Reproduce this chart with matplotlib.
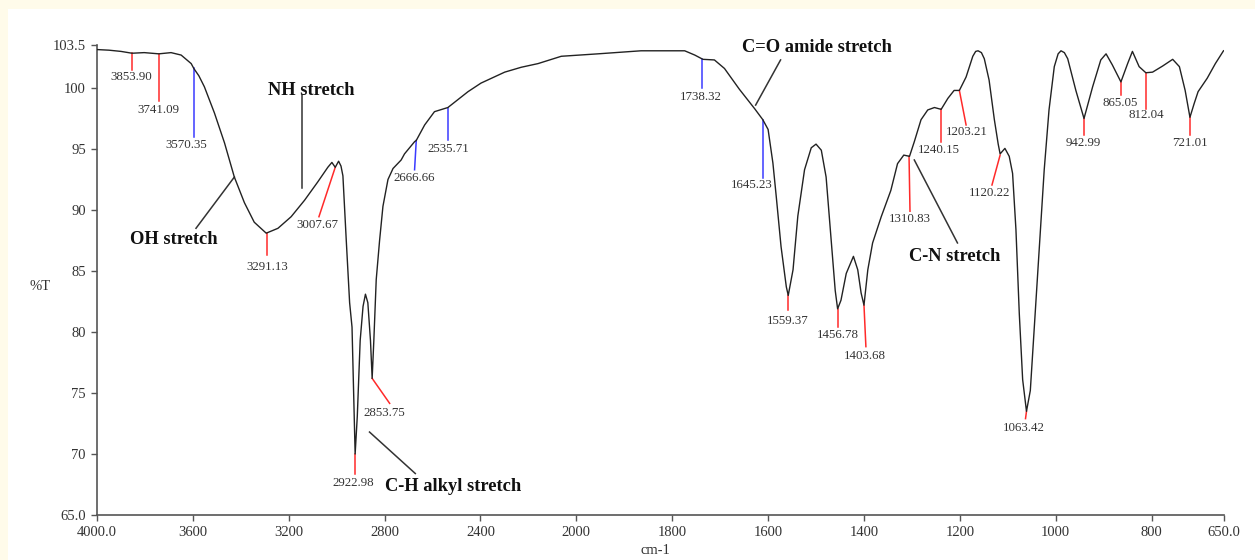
import numpy as np
import matplotlib.pyplot as plt
from matplotlib.patches import Rectangle

# FTIR spectrum (wavenumber cm-1, %T)
wn = [4000, 3950, 3900, 3853.9, 3803, 3742, 3691, 3649, 3607, 3596, 3575, 3552,
      3510, 3468, 3427, 3385, 3344, 3294, 3245, 3190, 3134, 3079, 3037, 3020,
      3006, 2992, 2982, 2974, 2960, 2946, 2936, 2928, 2923, 2914, 2902, 2890,
      2880, 2870, 2859, 2852, 2845, 2835, 2821, 2807, 2786, 2765, 2731, 2717,
      2675, 2668, 2633, 2592, 2536, 2452, 2398, 2299, 2230, 2160, 2063, 1955, 1865, 1774,
      1753, 1736, 1712, 1691, 1660, 1628, 1611, 1600, 1590, 1583, 1573, 1562,
      1558, 1548, 1538, 1524, 1510, 1500, 1489, 1479, 1469, 1460, 1455, 1448,
      1437, 1422, 1413, 1406, 1400, 1392, 1382, 1364, 1344, 1330, 1317, 1305,
      1295, 1281, 1267, 1253, 1239, 1225, 1212, 1201, 1187, 1173, 1167, 1162,
      1155, 1149, 1139, 1128, 1120, 1116, 1106, 1097, 1090, 1083, 1076, 1069,
      1061, 1053, 1045, 1034, 1024, 1014, 1003, 995, 989, 982, 975, 958, 941,
      923, 906, 895, 882, 864, 850, 840, 826, 812, 798, 777, 756, 742, 730,
      720, 711, 703, 684, 667, 650]
trans = [103.15, 103.1, 103.0, 102.85, 102.9, 102.8, 102.9, 102.7, 102.0, 101.6, 101.0, 100.1,
         97.95, 95.5, 92.7, 90.6, 89.0, 88.1, 88.5, 89.45, 90.8, 92.3, 93.5, 93.9,
         93.5, 94.0, 93.6, 92.8, 87.5, 82.4, 80.4, 73.9, 70.0, 73.1, 79.3, 82.1,
         83.1, 82.4, 79.3, 76.2, 79.3, 84.3, 87.5, 90.3, 92.5, 93.4, 94.1, 94.6,
         95.6, 95.7, 96.97, 98.06, 98.4, 99.7, 100.4, 101.3, 101.7, 102.0, 102.6, 102.8, 103.05, 103.05,
         102.7, 102.35, 102.3, 101.6, 99.9, 98.3, 97.4, 96.6, 93.85, 91.1, 87.0, 83.7,
         83.0, 85.1, 89.5, 93.3, 95.1, 95.4, 94.9, 92.7, 87.8, 83.4, 81.9, 82.6,
         84.8, 86.2, 85.1, 83.2, 82.2, 85.1, 87.3, 89.45, 91.6, 93.8, 94.5, 94.4,
         95.6, 97.4, 98.2, 98.4, 98.25, 99.15, 99.8, 99.8, 100.9, 102.6, 103.0, 103.05,
         102.9, 102.4, 100.65, 97.4, 95.4, 94.6, 95.05, 94.4, 93.0, 88.4, 81.5, 76.1,
         73.5, 75.2, 80.2, 87.0, 93.3, 98.2, 101.75, 102.8, 103.05, 102.9, 102.4, 99.8, 97.5,
         100.1, 102.3, 102.8, 101.9, 100.5, 102.0, 103.0, 101.75, 101.25, 101.3, 101.8, 102.35, 101.75, 99.8,
         97.6, 98.75, 99.7, 100.8, 102.0, 103.05]

# peak markers: label, line start (wn, %T), line end (wn, %T), colour, label position
peak_labels = ['3853.90', '3741.09', '3570.35', '3291.13', '3007.67', '2922.98',
               '2853.75', '2666.66', '2535.71', '1738.32', '1645.23', '1559.37',
               '1456.78', '1403.68', '1310.83', '1240.15', '1203.21', '1120.22',
               '1063.42', '942.99', '865.05', '812.04', '721.01']
mark_x0 = [3854, 3742, 3596, 3291, 3006, 2923, 2852, 2668, 2536, 1737, 1611, 1558,
           1455, 1400, 1306, 1240, 1201, 1116, 1061, 941, 864, 812, 720]
mark_y0 = [102.85, 102.8, 101.6, 88.1, 93.5, 70.0, 76.2, 95.7, 98.4, 102.35, 97.4, 83.0,
           81.9, 82.2, 94.4, 98.25, 99.8, 94.5, 73.5, 97.5, 100.5, 101.25, 97.6]
mark_x1 = [3854, 3742, 3596, 3291, 3074, 2923, 2779, 2675, 2536, 1737, 1611, 1558,
           1455, 1396, 1304, 1240, 1187, 1133, 1063, 941, 864, 812, 720]
mark_y1 = [101.5, 98.9, 96.0, 86.3, 89.45, 68.4, 74.15, 93.3, 95.7, 100.0, 92.6, 81.8,
           80.4, 78.8, 89.9, 95.6, 96.97, 92.05, 72.9, 96.15, 99.4, 98.3, 96.15]
mark_col = ['r', 'r', 'b', 'r', 'r', 'r', 'r', 'b', 'b', 'b', 'b', 'r',
            'r', 'r', 'r', 'r', 'r', 'r', 'r', 'r', 'r', 'r', 'r']
label_x = [3858, 3746, 3628, 3290, 3081, 2932, 2800, 2676, 2536, 1740, 1634, 1559,
           1455, 1399, 1305, 1243, 1185, 1139, 1066, 942, 866, 812, 720]
label_y = [100.9, 98.2, 95.3, 85.3, 88.8, 67.6, 73.4, 92.6, 95.0, 99.3, 92.05, 80.9,
           79.75, 78.0, 89.3, 94.9, 96.4, 91.4, 72.1, 95.5, 98.8, 97.8, 95.5]

# group annotations
groups = ['NH stretch', 'OH stretch', 'C-H alkyl stretch', 'C=O amide stretch', 'C-N stretch']
group_x = [3108, 3681, 2513, 1498, 1211]
group_y = [99.8, 87.6, 67.3, 103.3, 86.15]
ptr_x0 = [3144, 3587, 2863, 1574, 1295]
ptr_y0 = [99.4, 88.5, 71.8, 102.3, 94.1]
ptr_x1 = [3144, 3427, 2672, 1626, 1205]
ptr_y1 = [91.8, 92.7, 68.4, 98.6, 87.3]

xticks = [4000, 3600, 3200, 2800, 2400, 2000, 1800, 1600, 1400, 1200, 1000, 800, 650]
xtick_labels = ['4000.0', '3600', '3200', '2800', '2400', '2000', '1800', '1600',
                '1400', '1200', '1000', '800', '650.0']
yticks = [65, 70, 75, 80, 85, 90, 95, 100, 103.5]
ytick_labels = ['65.0', '70', '75', '80', '85', '90', '95', '100', '103.5']


# the instrument halves the scale above 2000 cm-1
def fwd(x):
    x = np.asarray(x, dtype=float)
    return np.where(x <= 2000, x - 2000, (x - 2000) / 2)


def inv(t):
    t = np.asarray(t, dtype=float)
    return np.where(t <= 0, t + 2000, t * 2 + 2000)


plt.rcParams['font.family'] = ['Liberation Serif', 'DejaVu Serif']

fig = plt.figure(figsize=(12.55, 5.6), dpi=100)
fig.patch.set_facecolor('white')
fig.patches.append(Rectangle((0, 1 - 9 / 560), 1, 9 / 560, transform=fig.transFigure,
                             facecolor='#fffbea', edgecolor='none', zorder=0))
fig.patches.append(Rectangle((0, 0), 8 / 1255, 1, transform=fig.transFigure,
                             facecolor='#fffbea', edgecolor='none', zorder=0))

ax = fig.add_axes([97 / 1255, 1 - 515 / 560, (1223.5 - 97) / 1255, (515 - 45.3) / 560])
ax.set_xscale('function', functions=(fwd, inv))
ax.plot(wn, trans, color='#222222', lw=1.0, zorder=3)
ax.set_xlim(4000, 650)
ax.set_ylim(65, 103.5)

colors = {'r': '#ff2a2a', 'b': '#3a3aff'}
for i in range(len(peak_labels)):
    ax.plot([mark_x0[i], mark_x1[i]], [mark_y0[i], mark_y1[i]],
            color=colors[mark_col[i]], lw=1.1, zorder=2)
    ax.text(label_x[i], label_y[i], peak_labels[i], ha='center', va='center',
            fontsize=9.3, color='#333333')

for i in range(len(groups)):
    ax.plot([ptr_x0[i], ptr_x1[i]], [ptr_y0[i], ptr_y1[i]], color='#333333', lw=1.1)
    ax.text(group_x[i], group_y[i], groups[i], ha='center', va='center',
            fontsize=13.3, fontweight='bold', color='#111111')

ax.set_xticks(xticks)
ax.set_xticklabels(xtick_labels)
ax.set_yticks(yticks)
ax.set_yticklabels(ytick_labels)
ax.minorticks_off()
ax.tick_params(length=4, width=1, color='#555555', labelsize=10.5, labelcolor='#333333', pad=4)

for s in ['top', 'right']:
    ax.spines[s].set_visible(False)
for s in ['left', 'bottom']:
    ax.spines[s].set_color('#555555')
    ax.spines[s].set_linewidth(1.2)

ax.set_ylabel('%T', rotation=0, fontsize=10.5, color='#333333')
ax.yaxis.set_label_coords(-0.0506, 0.472)
ax.set_xlabel('cm-1', fontsize=10.5, color='#333333')
ax.xaxis.set_label_coords(0.4956, -0.062)

plt.savefig('out.png', dpi=100)
